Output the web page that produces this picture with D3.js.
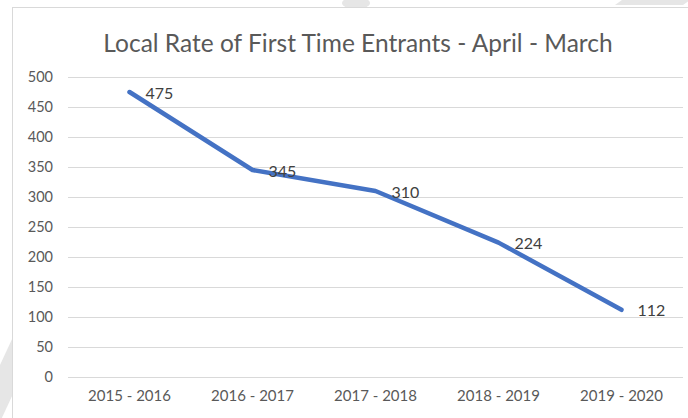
<!DOCTYPE html>
<html>
<head>
<meta charset="utf-8">
<script src="https://cdn.jsdelivr.net/npm/d3@7"></script>
<style>
  body { margin: 0; background: #fff; }
  svg { display: block; }
</style>
</head>
<body>
<div id="chart"></div>
<script>
const seasons = ["2015 - 2016", "2016 - 2017", "2017 - 2018", "2018 - 2019", "2019 - 2020"];
const rates = [475, 345, 310, 224, 112];
const yTicks = [0, 50, 100, 150, 200, 250, 300, 350, 400, 450, 500];
const title = "Local Rate of First Time Entrants - April - March";

const width = 688, height = 418;
const margin = {top: 77, right: 5, bottom: 41, left: 68};
const font = "Lato, 'Open Sans', sans-serif";

const svg = d3.select("#chart").append("svg")
    .attr("width", width)
    .attr("height", height);

// faint watermark shapes behind the chart frame
svg.append("polygon").attr("points", "13,337 0,365 0,422 13,394").attr("fill", "#e6e6e6");
svg.append("polygon").attr("points", "622,0 690,0 683,5 615,5").attr("fill", "#e6e6e6");
svg.append("ellipse").attr("cx", 356).attr("cy", 3).attr("rx", 14).attr("ry", 6).attr("fill", "#e6e6e6");

// chart frame
svg.append("rect")
    .attr("x", 12.5).attr("y", 7.5)
    .attr("width", 690).attr("height", 420)
    .attr("fill", "#fff")
    .attr("stroke", "#d9d9d9");

const x = d3.scaleBand().domain(seasons).range([margin.left, width - margin.right]);
const y = d3.scaleLinear().domain([0, 500]).range([height - margin.bottom, margin.top]);

svg.append("text")
    .attr("x", 358).attr("y", 42)
    .attr("text-anchor", "middle")
    .attr("dominant-baseline", "central")
    .style("font-family", font)
    .style("font-size", "24.5px")
    .style("fill", "#595959")
    .text(title);

// gridlines + y labels
const yAxis = d3.axisLeft(y).tickValues(yTicks).tickSize(-(width - margin.left - margin.right)).tickPadding(15);
const gy = svg.append("g").attr("transform", `translate(${margin.left},0)`).call(yAxis);
gy.select(".domain").remove();
gy.selectAll(".tick line").attr("stroke", "#d9d9d9");
gy.selectAll(".tick text")
    .style("font-family", font).style("font-size", "14.5px").style("fill", "#595959");

const xAxis = d3.axisBottom(x).tickSize(0).tickPadding(13);
const gx = svg.append("g").attr("transform", `translate(0,${height - margin.bottom})`).call(xAxis);
gx.select(".domain").remove();
gx.selectAll(".tick text")
    .style("font-family", font).style("font-size", "15px").style("fill", "#595959");

const pts = seasons.map((s, i) => ({season: s, value: rates[i]}));

const line = d3.line()
    .x(d => x(d.season) + x.bandwidth() / 2)
    .y(d => y(d.value));

svg.append("path")
    .datum(pts)
    .attr("d", line)
    .attr("fill", "none")
    .attr("stroke", "#4472c4")
    .attr("stroke-width", 4.5)
    .attr("stroke-linecap", "round")
    .attr("stroke-linejoin", "round");

svg.selectAll(".lbl")
    .data(pts)
    .enter()
    .append("text")
    .attr("class", "lbl")
    .attr("x", d => x(d.season) + x.bandwidth() / 2 + 16)
    .attr("y", d => y(d.value))
    .attr("dominant-baseline", "central")
    .style("font-family", font)
    .style("font-size", "16px")
    .style("fill", "#404040")
    .text(d => d.value);
</script>
</body>
</html>
